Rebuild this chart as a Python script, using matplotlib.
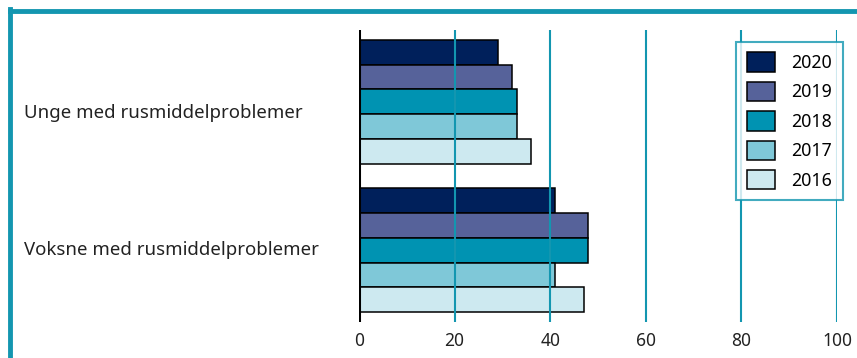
import numpy as np
import matplotlib
matplotlib.use("Agg")
import matplotlib.pyplot as plt
import matplotlib.transforms as mtransforms
from matplotlib.patches import Patch
from matplotlib.lines import Line2D

plt.rcParams['font.family'] = ['Noto Sans', 'DejaVu Sans']

# andel (%) per gruppe og år
groups = ['Unge med rusmiddelproblemer', 'Voksne med rusmiddelproblemer']
years = ['2020', '2019', '2018', '2017', '2016']
values = {
    '2020': [29, 41],
    '2019': [32, 48],
    '2018': [33, 48],
    '2017': [33, 41],
    '2016': [36, 47],
}
colors = ['#00205b', '#56629a', '#0093b2', '#7fc8d8', '#cde9f0']
xticks = [0, 20, 40, 60, 80, 100]

teal = '#1396b0'

fig = plt.figure(figsize=(8.57, 3.58), dpi=100)
ax = fig.add_axes([359 / 857, 1 - 322 / 358, 478 / 857, 292 / 358])

n = len(years)
for gi, g in enumerate(groups):
    for yi, yr in enumerate(years):
        pos = gi * (n + 1) + yi
        ax.barh(pos, values[yr][gi], height=1.0, color=colors[yi],
                edgecolor='black', linewidth=1.1, zorder=2)

ax.set_xlim(0, 100)
ax.set_ylim(2 * n + 0.9, -0.9)

# gridlinjer over stolpene
for x in xticks[1:]:
    ax.axvline(x, color=teal, linewidth=1.5, zorder=3)
ax.axvline(0, color='black', linewidth=2.2, zorder=4)

for s in ax.spines.values():
    s.set_visible(False)
ax.set_xticks(xticks)
ax.set_xticklabels([str(x) for x in xticks], fontsize=12.5, color='#222222')
ax.tick_params(axis='x', length=0, pad=7)
ax.set_yticks([])

# kategorinavn venstrejustert mot kanten av figuren
trans = mtransforms.blended_transform_factory(fig.transFigure, ax.transData)
label_shift = [0.45, 0.0]
for gi, g in enumerate(groups):
    center = gi * (n + 1) + (n - 1) / 2 + label_shift[gi]
    ax.text(24 / 857, center, g, transform=trans,
            ha='left', va='center', fontsize=13.4, color='#222222')

handles = [Patch(facecolor=c, edgecolor='black', linewidth=1.1) for c in colors]
leg = ax.legend(handles, years, loc='upper right', bbox_to_anchor=(1.012, 0.96),
                fontsize=12.8, frameon=True, fancybox=False, handlelength=1.6,
                handleheight=1.3, labelspacing=0.55, borderpad=0.6,
                handletextpad=0.9, borderaxespad=0)
leg.get_frame().set_edgecolor(teal)
leg.get_frame().set_linewidth(1.5)
leg.set_zorder(5)

# ramme øverst og til venstre
fig.add_artist(Line2D([10 / 857, 1], [1 - 11 / 358, 1 - 11 / 358],
                      color=teal, linewidth=3.5, transform=fig.transFigure))
fig.add_artist(Line2D([10 / 857, 10 / 857], [0, 1 - 9 / 358],
                      color=teal, linewidth=3.5, transform=fig.transFigure))

fig.savefig('out.png', dpi=100)
